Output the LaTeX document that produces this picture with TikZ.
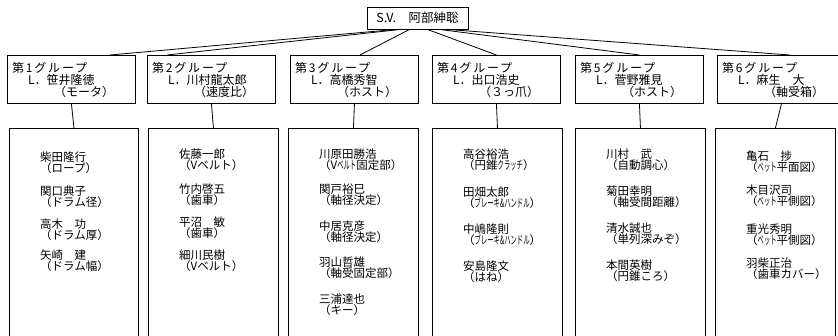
\documentclass[tikz,border=0pt]{standalone}
\usepackage{fontspec}
\usepackage{graphicx}
\setmainfont{Noto Sans CJK JP}
\usetikzlibrary{calc}
\newcommand\grp[5]{%
  \node[box, minimum width=128pt, minimum height=48pt] (g#1) at (#2,55) {};
  \node[lead] (g#1a) at ($(g#1.north west)+(5,13)$) {\addfontfeature{LetterSpace=15}第#3グループ};
  \node[lead] (g#1b) at ($(g#1.north west)+(21,25)$) {L．#4};
  \node[lead] (g#1c) at ($(g#1.north west)+(47,37)$) {#5};
}
\newcommand\memb[5]{\node[mem] (#1) at ($(#2.north west)+(31,#3-134)$) {#4\\#5};}
\newcommand\hw[1]{\scalebox{0.55}[1]{#1}}
\begin{document}
\begin{tikzpicture}[x=1pt,y=-1pt,
  box/.style={draw, line width=0.9pt, inner sep=0pt, anchor=north west},
  lead/.style={anchor=west, inner sep=0pt, font=\fontsize{12}{12}\selectfont},
  mem/.style={anchor=north west, inner sep=0pt, align=left, font=\fontsize{11.5}{11}\selectfont},
  conn/.style={line width=0.8pt}]
\useasboundingbox (0,0) rectangle (838,335);
\fill[white] (0,0) rectangle (838,335);
\clip (0,0) rectangle (838,335);

\node[draw, line width=0.9pt, minimum width=101pt, minimum height=22pt, inner sep=0pt,
      font=\fontsize{12.5}{13}\selectfont] (sv) at (417.5,18) {S.V.　阿部紳聡};

\grp{1}{7}{1}{笹井隆徳}{（モータ）}
\grp{2}{147}{2}{川村龍太郎}{（速度比）}
\grp{3}{290}{3}{高橋秀智}{（ホスト）}
\grp{4}{432}{4}{出口浩史}{（３っ爪）}
\grp{5}{575}{5}{菅野雅見}{（ホスト）}
\grp{6}{717}{6}{麻生　大}{（軸受箱）}

\node[box, minimum width=129pt, minimum height=225pt] (m1) at (9,128) {};
\node[box, minimum width=130pt, minimum height=225pt] (m2) at (148,128) {};
\node[box, minimum width=130pt, minimum height=225pt] (m3) at (288,128) {};
\node[box, minimum width=130pt, minimum height=225pt] (m4) at (432,128) {};
\node[box, minimum width=130pt, minimum height=225pt] (m5) at (575,128) {};
\node[box, minimum width=120pt, minimum height=225pt] (m6) at (715,128) {};

% connectors from S.V.
\draw[conn] ($(sv.south)+(-22,0)$) -- ($(g1.north west)+(103,0)$);
\draw[conn] ($(sv.south)+(-17,0)$) -- ($(g2.north west)+(20,0)$);
\draw[conn] ($(sv.south)+(-8,0)$) -- ($(g3.north west)+(70,0)$);
\draw[conn] ($(sv.south)+(10,0)$) -- (g4.north);
\draw[conn] ($(sv.south)+(22,0)$) -- (g5.north);
\draw[conn] ($(sv.south)+(30,0)$) -- ($(g6.north west)+(73,0)$);

\foreach \i in {1,...,6} \draw[conn] (g\i.south) -- (m\i.north);

% members
\memb{a1}{m1}{158}{柴田隆行}{（ロープ）}
\memb{a2}{m1}{192}{関口典子}{（ドラム径）}
\memb{a3}{m1}{225}{高木　功}{（ドラム厚）}
\memb{a4}{m1}{256}{矢崎　建}{（ドラム幅）}

\memb{b1}{m2}{155}{佐藤一郎}{（Vベルト）}
\memb{b2}{m2}{190}{竹内啓五}{（歯車）}
\memb{b3}{m2}{223}{平沼　敏}{（歯車）}
\memb{b4}{m2}{256}{細川民樹}{（Vベルト）}

\memb{c1}{m3}{155}{川原田勝浩}{（V\hw{ベルト}固定部）}
\memb{c2}{m3}{190}{関戸裕巳}{（軸径決定）}
\memb{c3}{m3}{227}{中居克彦}{（軸径決定）}
\memb{c4}{m3}{263}{羽山哲雄}{（軸受固定部）}
\memb{c5}{m3}{300}{三浦達也}{（キー）}

\memb{d1}{m4}{155}{高谷裕浩}{（円錐\hw{クラッチ}）}
\memb{d2}{m4}{193}{田畑太郎}{（\hw{ブレーキ\&ハンドル}）}
\memb{d3}{m4}{230}{中嶋隆則}{（\hw{ブレーキ\&ハンドル}）}
\memb{d4}{m4}{267}{安島隆文}{（はね）}

\memb{e1}{m5}{155}{川村　武}{（自動調心）}
\memb{e2}{m5}{192}{菊田幸明}{（軸受間距離）}
\memb{e3}{m5}{229}{清水誠也}{（単列深みぞ）}
\memb{e4}{m5}{266}{本間英樹}{（円錐ころ）}

\memb{f1}{m6}{157}{亀石　捗}{（\hw{ベット}平面図）}
\memb{f2}{m6}{191}{木目沢司}{（\hw{ベット}平側図）}
\memb{f3}{m6}{230}{重光秀明}{（\hw{ベット}平側図）}
\memb{f4}{m6}{264}{羽柴正治}{（歯車カバー）}
\end{tikzpicture}
\end{document}
